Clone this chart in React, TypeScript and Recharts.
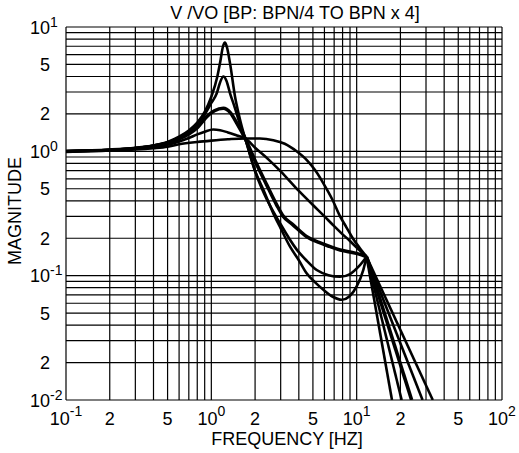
import React from 'react';
import { LineChart, Line, XAxis, YAxis, CartesianGrid, Customized } from 'recharts';

// ---- tick values (grid at every 1..9 x decade) ----
const xTicks = [0.1, 0.2, 0.3, 0.4, 0.5, 0.6, 0.7, 0.8, 0.9, 1, 2, 3, 4, 5, 6, 7, 8, 9, 10, 20, 30, 40, 50, 60, 70, 80, 90, 100];
const yTicks = [0.01, 0.02, 0.03, 0.04, 0.05, 0.06, 0.07, 0.08, 0.09, 0.1, 0.2, 0.3, 0.4, 0.5, 0.6, 0.7, 0.8, 0.9, 1, 2, 3, 4, 5, 6, 7, 8, 9, 10];
const labeledMantissas = [1, 2, 5];

const title = 'V /VO [BP: BPN/4 TO BPN x 4]';
const xLabel = 'FREQUENCY [HZ]';
const yLabel = 'MAGNITUDE';

// ---- curve A: BPN/4 (sharpest peak, deepest dip) ----
const freqA = [0.1, 0.2, 0.3, 0.4, 0.5, 0.6, 0.7, 0.8, 0.9, 1.0, 1.1, 1.15, 1.2, 1.24, 1.28, 1.345, 1.456, 1.55, 1.62, 1.71, 2.0, 2.3, 2.67, 3.0, 3.48, 4.0, 4.54, 5.2, 5.9, 6.8, 7.9, 8.9, 10.0, 11.1, 11.7, 17.5];
const magA = [1.0, 1.027, 1.062, 1.115, 1.19, 1.31, 1.47, 1.7, 2.08, 2.75, 4.0, 5.2, 6.9, 7.5, 6.9, 5.1, 2.75, 1.95, 1.58, 1.27, 0.7, 0.48, 0.317, 0.24, 0.171, 0.133, 0.104, 0.088, 0.077, 0.068, 0.064, 0.068, 0.082, 0.111, 0.142, 0.01];

// ---- curve B ----
const freqB = [0.1, 0.2, 0.3, 0.4, 0.5, 0.6, 0.7, 0.8, 0.9, 1.0, 1.09, 1.15, 1.21, 1.27, 1.345, 1.45, 1.55, 1.71, 2.0, 2.3, 2.97, 3.87, 4.5, 5.31, 6.4, 7.69, 9.0, 10.3, 11.7, 20.4];
const magB = [1.0, 1.027, 1.062, 1.113, 1.18, 1.29, 1.44, 1.66, 1.98, 2.45, 2.93, 3.6, 4.0, 3.7, 2.93, 2.25, 1.75, 1.27, 0.69, 0.46, 0.264, 0.162, 0.133, 0.111, 0.101, 0.098, 0.103, 0.118, 0.142, 0.01];

// ---- curve C: BPN (nominal, thick) ----
const freqC = [0.1, 0.2, 0.3, 0.4, 0.5, 0.6, 0.7, 0.8, 0.93, 1.05, 1.21, 1.35, 1.5, 1.71, 2.0, 2.4, 2.82, 3.13, 3.6, 4.54, 5.5, 6.5, 7.7, 9.0, 10.4, 11.7, 23.9];
const magC = [1.0, 1.026, 1.06, 1.105, 1.17, 1.26, 1.38, 1.55, 1.9, 2.12, 2.22, 2.05, 1.68, 1.27, 0.84, 0.54, 0.37, 0.3, 0.26, 0.206, 0.185, 0.172, 0.161, 0.155, 0.149, 0.142, 0.01];

// ---- curve D ----
const freqD = [0.1, 0.2, 0.3, 0.4, 0.5, 0.6, 0.7, 0.8, 0.9, 1.03, 1.15, 1.3, 1.5, 1.71, 2.0, 2.5, 3.0, 4.0, 5.0, 6.0, 7.0, 8.0, 9.0, 10.0, 11.7, 28.4];
const magD = [1.0, 1.024, 1.05, 1.085, 1.13, 1.2, 1.28, 1.37, 1.44, 1.5, 1.48, 1.42, 1.34, 1.27, 1.07, 0.85, 0.69, 0.48, 0.37, 0.3, 0.25, 0.215, 0.19, 0.168, 0.142, 0.01];

// ---- curve E: BPN x 4 (flattest) ----
const freqE = [0.1, 0.2, 0.3, 0.4, 0.5, 0.6, 0.8, 1.0, 1.3, 1.71, 2.16, 2.67, 3.2, 3.86, 4.54, 5.2, 5.9, 6.8, 7.69, 8.5, 9.4, 10.5, 11.7, 33.4];
const magE = [1.0, 1.018, 1.035, 1.06, 1.09, 1.14, 1.19, 1.22, 1.25, 1.27, 1.27, 1.23, 1.15, 1.0, 0.85, 0.7, 0.553, 0.41, 0.3, 0.245, 0.2, 0.167, 0.142, 0.01];

const build = (fs: number[], ms: number[]) => fs.map((f, i) => ({ f, m: ms[i] }));
const curves = [
  { key: 'A', fs: freqA, ms: magA, width: 2.6 },
  { key: 'B', fs: freqB, ms: magB, width: 2.6 },
  { key: 'C', fs: freqC, ms: magC, width: 3.6 },
  { key: 'D', fs: freqD, ms: magD, width: 2.6 },
  { key: 'E', fs: freqE, ms: magE, width: 2.6 },
];
// body: smooth part up to the common high-frequency point; tail: straight roll-off after it
const series = curves.flatMap((c) => {
  const all = build(c.fs, c.ms);
  return [
    { key: c.key + '-body', data: all.slice(0, -1), width: c.width, type: 'monotone' as const },
    { key: c.key + '-tail', data: all.slice(-2), width: c.width, type: 'linear' as const },
  ];
});

const FONT = '"Liberation Sans", Arial, Helvetica, sans-serif';

const split = (v: number) => {
  const e = Math.floor(Math.log10(v) + 1e-9);
  const mant = Math.round(v / Math.pow(10, e));
  return { e, mant };
};

const XTick = (props: any) => {
  const { x, y, payload } = props;
  const { e, mant } = split(payload.value);
  if (!labeledMantissas.includes(mant)) return <g />;
  if (mant === 1) {
    return (
      <text x={x} y={y + 25} textAnchor="middle" fontSize={18} fontFamily={FONT} fill="#000">
        10<tspan dy={-9} fontSize={14}>{e}</tspan>
      </text>
    );
  }
  return (
    <text x={x} y={y + 25} textAnchor="middle" fontSize={18} fontFamily={FONT} fill="#000">
      {mant}
    </text>
  );
};

const YTick = (props: any) => {
  const { x, y, payload } = props;
  const { e, mant } = split(payload.value);
  if (!labeledMantissas.includes(mant)) return <g />;
  if (mant === 1) {
    return (
      <g>
        <text x={x - 16} y={y + 6.5} textAnchor="end" fontSize={18} fontFamily={FONT} fill="#000">10</text>
        <text x={x - 16} y={y - 0.5} textAnchor="start" fontSize={14} fontFamily={FONT} fill="#000">{e}</text>
      </g>
    );
  }
  return (
    <text x={x - 16} y={y + 6.5} textAnchor="end" fontSize={18} fontFamily={FONT} fill="#000">{mant}</text>
  );
};

const Texts = () => (
  <g>
    <text x={295} y={19} textAnchor="middle" fontSize={18} fontFamily={FONT} fill="#000">{title}</text>
    <text x={287} y={445} textAnchor="middle" fontSize={18} fontFamily={FONT} fill="#000">{xLabel}</text>
    <text x={21} y={211} textAnchor="middle" fontSize={18} fontFamily={FONT} fill="#000" transform="rotate(-90, 21, 211)">{yLabel}</text>
  </g>
);

export default function App() {
  return (
    <div style={{ position: 'absolute', left: 0, top: 0, width: 519, height: 453, background: '#fff' }}>
      <LineChart width={519} height={453} margin={{ top: 27, right: 17, bottom: 0, left: 0 }}>
        <CartesianGrid stroke="#000" strokeWidth={1.2} strokeOpacity={1} />
        <XAxis
          dataKey="f"
          type="number"
          scale="log"
          domain={[0.1, 100]}
          ticks={xTicks}
          interval={0}
          allowDataOverflow
          height={53}
          tickSize={0}
          tickMargin={0}
          axisLine={false}
          tickLine={false}
          tick={<XTick />}
        />
        <YAxis
          type="number"
          scale="log"
          domain={[0.01, 10]}
          ticks={yTicks}
          interval={0}
          allowDataOverflow
          width={66}
          tickSize={0}
          tickMargin={0}
          axisLine={false}
          tickLine={false}
          tick={<YTick />}
        />
        {series.map((s) => (
          <Line
            key={s.key}
            data={s.data}
            dataKey="m"
            type={s.type}
            stroke="#000"
            strokeWidth={s.width}
            strokeLinejoin="round"
            dot={false}
            activeDot={false}
            isAnimationActive={false}
          />
        ))}
        <Customized component={Texts} />
      </LineChart>
    </div>
  );
}
